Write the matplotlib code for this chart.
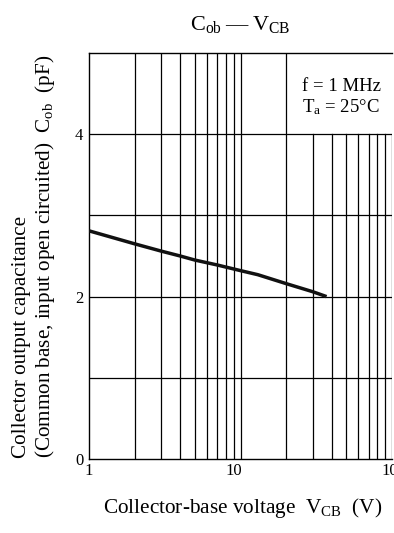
import numpy as np
import matplotlib
matplotlib.use("Agg")
import matplotlib.pyplot as plt
from matplotlib.transforms import ScaledTranslation

plt.rcParams['font.family'] = ['Liberation Serif', 'DejaVu Serif']
plt.rcParams['mathtext.fontset'] = 'custom'
plt.rcParams['mathtext.rm'] = 'Liberation Serif'
plt.rcParams['mathtext.it'] = 'Liberation Serif:italic'

# Data
vcb = [1, 2, 3, 4, 5, 7, 10, 13, 20, 30, 37]
cob = [2.81, 2.65, 2.56, 2.50, 2.45, 2.39, 2.32, 2.27, 2.16, 2.06, 2.00]

x_ticks = [1, 10, 100]
x_ticklabels = ["1", "10", "10\u00b2"]
y_ticks = [0, 2, 4]
y_ticklabels = ["0", "2", "4"]
y_grid = [1, 2, 3, 4]
x_grid_full = [2, 3, 4, 5, 6, 7, 8, 9, 10, 20]
x_grid_partial = [30, 40, 50, 60, 70, 80, 90, 100]

W, H = 394, 533
fig = plt.figure(figsize=(W / 100, H / 100), dpi=100)
ax = fig.add_axes([89 / W, 1 - 459 / H, (392 - 89) / W, (459 - 53) / H])
ax.set_xscale('log')
ax.set_xlim(1, 100)
ax.set_ylim(0, 5)

for y in y_grid:
    ax.axhline(y, color='black', lw=0.9, zorder=1)
for x in x_grid_full:
    ax.axvline(x, color='black', lw=0.9, zorder=1)
for x in x_grid_partial:
    ax.axvline(x, ymin=0, ymax=0.8, color='black', lw=0.9, zorder=1)

ax.plot(vcb, cob, color='#111111', lw=2.5, solid_capstyle='butt', zorder=3)

ax.spines['right'].set_visible(False)
for s in ['left', 'bottom', 'top']:
    ax.spines[s].set_linewidth(1.0)

ax.set_xticks(x_ticks)
ax.set_xticklabels(x_ticklabels, fontsize=12)
ax.xaxis.set_minor_locator(matplotlib.ticker.NullLocator())
ax.set_yticks(y_ticks)
ax.set_yticklabels(y_ticklabels, fontsize=12)
ax.tick_params(axis='both', length=0, pad=4)
ax.tick_params(axis='x', pad=3)

for lab in ax.get_xticklabels():
    if lab.get_text() == "10":
        lab.set_transform(lab.get_transform() + ScaledTranslation(-7 / 100, 0, fig.dpi_scale_trans))

ax.text(0.703, 0.906, "f = 1 MHz", transform=ax.transAxes, fontsize=13.5,
        ha='left', va='baseline')
ax.text(0.703, 0.855, r"T$_\mathregular{a}$ = 25°C", transform=ax.transAxes, fontsize=13.5,
        ha='left', va='baseline')

fig.text(240 / W, 1 - 30 / H, "C$_\\mathregular{ob}$\u2009\u2014\u2009V$_\\mathregular{CB}$",
         fontsize=16, ha='center', va='baseline')
fig.text(243 / W, 1 - 513 / H, r"Collector-base voltage  V$_\mathregular{CB}$  (V)",
         fontsize=15.3, ha='center', va='baseline')
fig.text(22 / W, 1 - 458 / H, "Collector output capacitance", fontsize=15.2,
         rotation=90, ha='center', va='bottom')
fig.text(45 / W, 1 - 458 / H, r"(Common base, input open circuited)  C$_\mathregular{ob}$  (pF)",
         fontsize=15.2, rotation=90, ha='center', va='bottom')

fig.savefig("out.png", dpi=100)
